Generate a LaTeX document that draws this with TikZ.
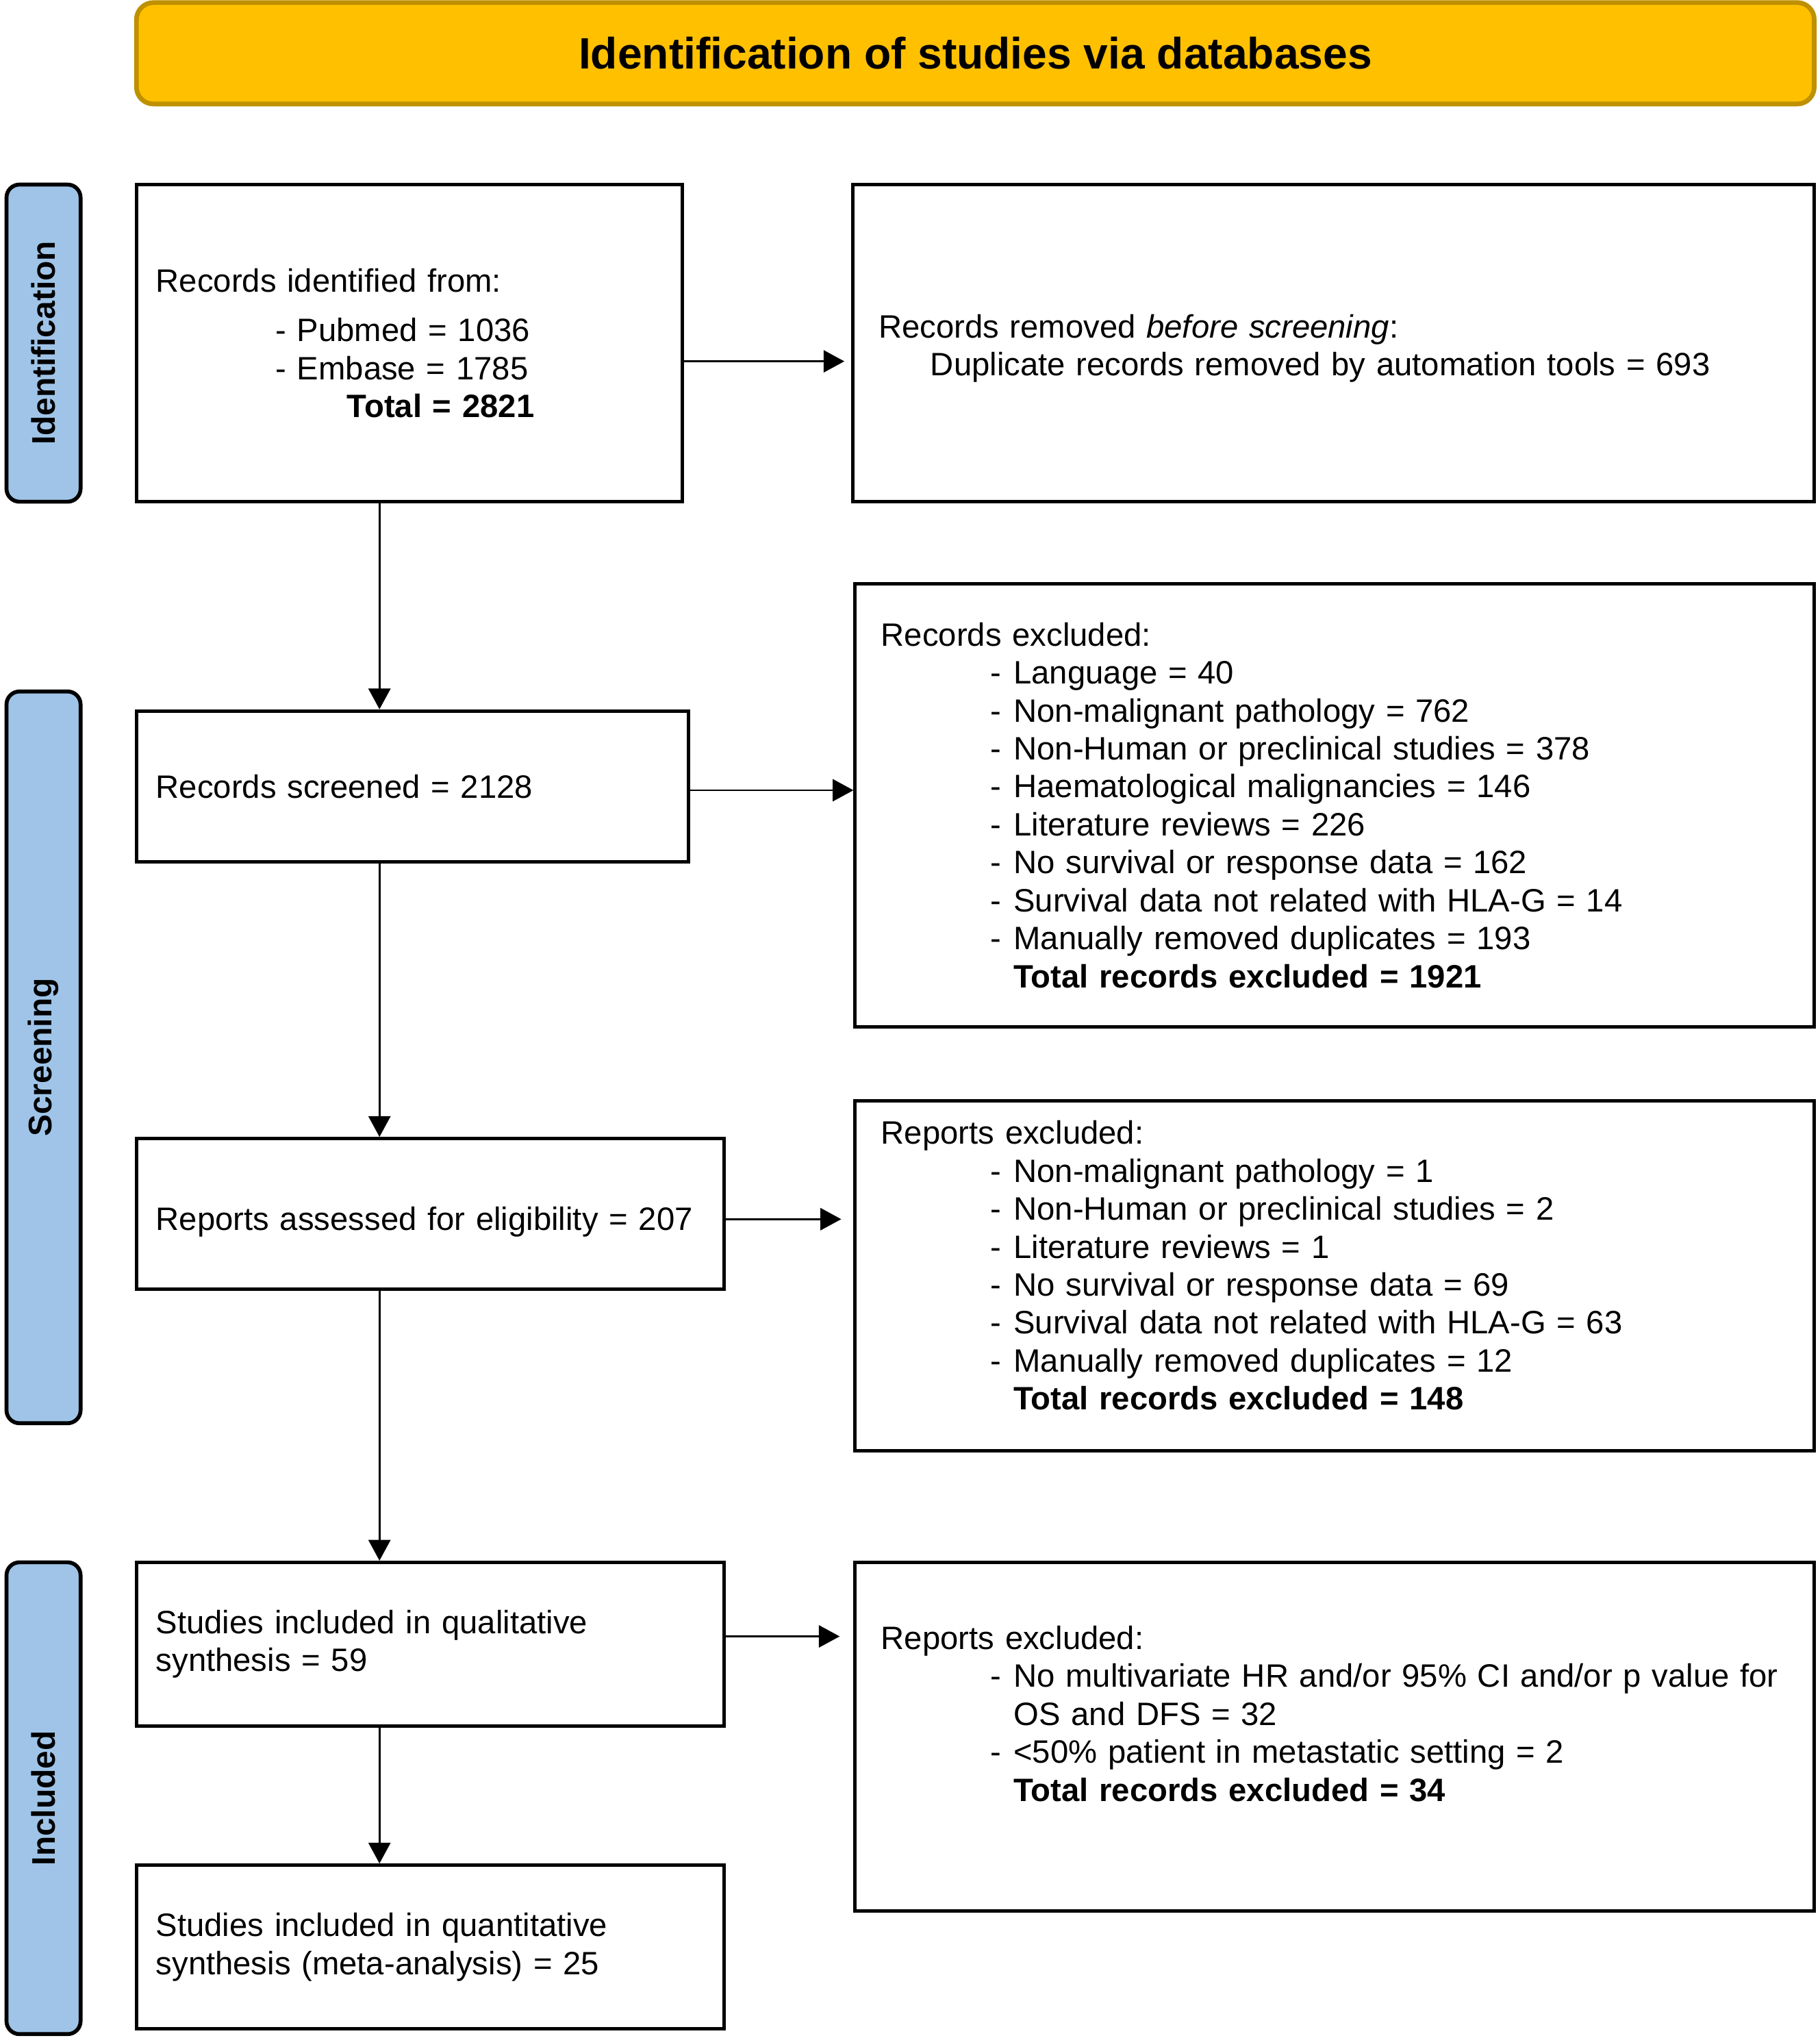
\documentclass[tikz,border=0pt]{standalone}
\usepackage{fontspec}
\setmainfont{Liberation Sans}
\usetikzlibrary{arrows.meta}
\definecolor{headfill}{HTML}{FFC000}
\definecolor{headline}{HTML}{BF9000}
\definecolor{phasefill}{HTML}{9FC4E8}
\newcommand{\excl}[1]{\hspace*{42pt}\makebox[9pt][l]{-}#1}
\newcommand{\exclsum}[1]{\hspace*{51pt}\textbf{#1}}
\begin{document}
\begin{tikzpicture}[x=0.5pt,y=0.5pt]
            \tikzstyle{every node}+=[font=\fontsize{12.45}{14.6}\selectfont]
            \tikzstyle{flowbox}=[draw=black, line width=1.3pt, align=left, inner ysep=0pt]
            \tikzstyle{leftbox}=[flowbox, inner xsep=7.5pt]
            \tikzstyle{rightbox}=[flowbox, inner xsep=10pt, text width=349pt, minimum width=369pt]
            \tikzstyle{phase}=[draw=black, line width=1.5pt, fill=phasefill, rounded corners=5pt, rotate=90, minimum height=28.5pt, inner sep=0pt, font=\fontsize{12.6}{14.6}\selectfont\bfseries]
            \tikzstyle{arr}=[line width=0.7pt, -{Triangle[length=8pt,width=8.5pt]}]
                \useasboundingbox (0,0) rectangle (1400,-1568);
                \node[draw=headline, fill=headfill, line width=1.8pt, rounded corners=6.5pt, minimum width=645.5pt, minimum height=39pt, font=\fontsize{16.9}{20}\selectfont\bfseries] (header) at (750.5,-41) {Identification of studies via databases};
                \node[phase, minimum width=122pt] (phaseid) at (33.5,-264) {Identification};
                \node[phase, minimum width=281.5pt] (phasescr) at (33.5,-813.5) {Screening};
                \node[phase, minimum width=181.5pt] (phaseinc) at (33.5,-1383.5) {Included};
                \node[leftbox, text width=195pt, minimum height=122pt] (ident) at (315,-264) {Records identified from:\\[4.4pt]
                    \hspace*{46pt}- Pubmed = 1036\\
                    \hspace*{46pt}- Embase = 1785\\
                    \hspace*{73.5pt}\textbf{Total = 2821}};
                \node[leftbox, text width=197.5pt, minimum height=58pt] (screen) at (317.5,-605) {Records screened = 2128};
                \node[leftbox, text width=211pt, minimum height=58pt] (assess) at (331,-934) {\rule{0pt}{15pt}Reports assessed for eligibility = 207};
                \node[leftbox, text width=211pt, minimum height=63pt] (qual) at (331,-1265) {Studies included in qualitative\\ synthesis = 59};
                \node[leftbox, text width=211pt, minimum height=63pt] (quant) at (331,-1498) {Studies included in quantitative\\ synthesis (meta-analysis) = 25};
                \node[rightbox, text width=350pt, minimum width=370pt, minimum height=122pt] (removed) at (1026,-264) {\rule{0pt}{13pt}Records removed \textit{before screening}:\\
                    \hspace*{20pt}Duplicate records removed by automation tools = 693};
                \node[rightbox, minimum height=170.5pt] (recexcl) at (1027,-619.5) {Records excluded:\\
                    \excl{Language = 40}\\
                    \excl{Non-malignant pathology = 762}\\
                    \excl{Non-Human or preclinical studies = 378}\\
                    \excl{Haematological malignancies = 146}\\
                    \excl{Literature reviews = 226}\\
                    \excl{No survival or response data = 162}\\
                    \excl{Survival data not related with HLA-G = 14}\\
                    \excl{Manually removed duplicates = 193}\\
                    \exclsum{Total records excluded = 1921}};
                \node[rightbox, minimum height=134.5pt] (repexcl) at (1027,-981.5) {Reports excluded:\\
                    \excl{Non-malignant pathology = 1}\\
                    \excl{Non-Human or preclinical studies = 2}\\
                    \excl{Literature reviews = 1}\\
                    \excl{No survival or response data = 69}\\
                    \excl{Survival data not related with HLA-G = 63}\\
                    \excl{Manually removed duplicates = 12}\\
                    \exclsum{Total records excluded = 148}\\[-6.6pt]
                    \mbox{}};
                \node[rightbox, minimum height=134pt] (finexcl) at (1027,-1336) {Reports excluded:\\
                    \excl{No multivariate HR and/or 95\% CI and/or p value for}\\
                    \hspace*{51pt}OS and DFS = 32\\
                    \excl{<50\% patient in metastatic setting = 2}\\
                    \exclsum{Total records excluded = 34}\\[3pt]
                    \mbox{}};
                \coordinate (spine) at (292,0);
                \draw[arr] (ident.south -| spine) -- (screen.north -| spine);
                \draw[arr] (screen.south -| spine) -- (assess.north -| spine);
                \draw[arr] (assess.south -| spine) -- (qual.north -| spine);
                \draw[arr] (qual.south -| spine) -- (quant.north -| spine);
                \draw[arr, shorten >=2.5pt] ([yshift=-7pt]ident.east) -- ([yshift=-7pt]ident.east -| removed.west);
                \draw[arr] ([yshift=-1.5pt]screen.east) -- ([yshift=-1.5pt]screen.east -| recexcl.west);
                \draw[arr, shorten >=4.7pt] ([yshift=-2pt]assess.east) -- ([yshift=-2pt]assess.east -| repexcl.west);
                \draw[arr, shorten >=5.3pt] ([yshift=3pt]qual.east) -- ([yshift=3pt]qual.east -| finexcl.west);
\end{tikzpicture}
\end{document}
